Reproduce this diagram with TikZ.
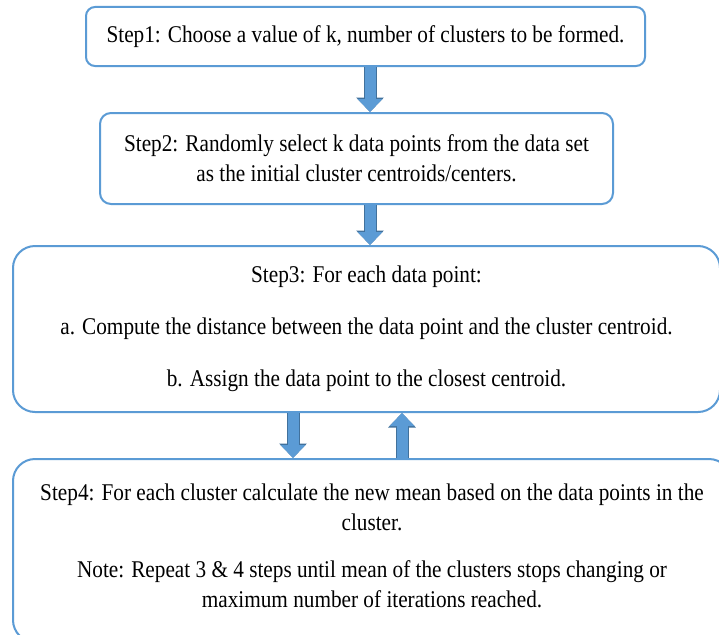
\documentclass[tikz,border=0pt]{standalone}
\usepackage{fontspec}
\setmainfont{Liberation Serif}[FakeStretch=0.885]
\usetikzlibrary{arrows.meta}
\definecolor{boxblue}{HTML}{5B9BD5}
\definecolor{arrowedge}{HTML}{41719C}
\tikzset{
  stepbox/.style={draw=boxblue, line width=2pt, fill=white, align=center,
    inner sep=0pt, font=\fontsize{24}{30}\selectfont, text=black},
  steptext/.style={align=center, inner sep=0pt, font=\fontsize{24}{30}\selectfont, text=black},
  fatedge/.style={draw=arrowedge, line width=13pt, -{Triangle[length=14.5pt,width=27pt]}},
  fatarrow/.style={draw=boxblue, line width=11pt, -{Triangle[length=13pt,width=24pt]}}
}
\begin{document}
\begin{tikzpicture}[x=1pt,y=-1pt]
\useasboundingbox (0,0) rectangle (719,634);
\clip (0,0) rectangle (719,634);
\fill[white] (0,0) rectangle (719,634);

\node[stepbox, rounded corners=9pt, minimum width=559pt, minimum height=59pt] (s1) at (365.5,36.5)
  {Step1: Choose a value of k, number of clusters to be formed.};
\node[stepbox, rounded corners=11pt, minimum width=513pt, minimum height=91pt] (s2) at (356.5,158.5)
  {Step2: Randomly select k data points from the data set\\as the initial cluster centroids/centers.};
\node[stepbox, rounded corners=22pt, minimum width=707pt, minimum height=166pt] (s3) at (366.5,329)
  {Step3: For each data point:\\[22pt]a. Compute the distance between the data point and the cluster centroid.\\[22pt]b. Assign the data point to the closest centroid.};
\node[stepbox, rounded corners=22pt, minimum width=718pt, minimum height=183pt] (s4) at (372,550.5) {};
\node[steptext] (t4) at (372,546)
  {Step4: For each cluster calculate the new mean based on the data points in the\\cluster.\\[17pt]Note: Repeat 3 \& 4 steps until mean of the clusters stops changing or\\maximum number of iterations reached.};

\foreach \st in {fatedge,fatarrow}{
  \draw[\st] (s1.south -| 370,0) -- (s2.north -| 370,0);
  \draw[\st] (s2.south -| 370,0) -- (s3.north -| 370,0);
  \draw[\st] (s3.south -| 293,0) -- (s4.north -| 293,0);
  \draw[\st] (s4.north -| 402,0) -- (s3.south -| 402,0);
}
\end{tikzpicture}
\end{document}
